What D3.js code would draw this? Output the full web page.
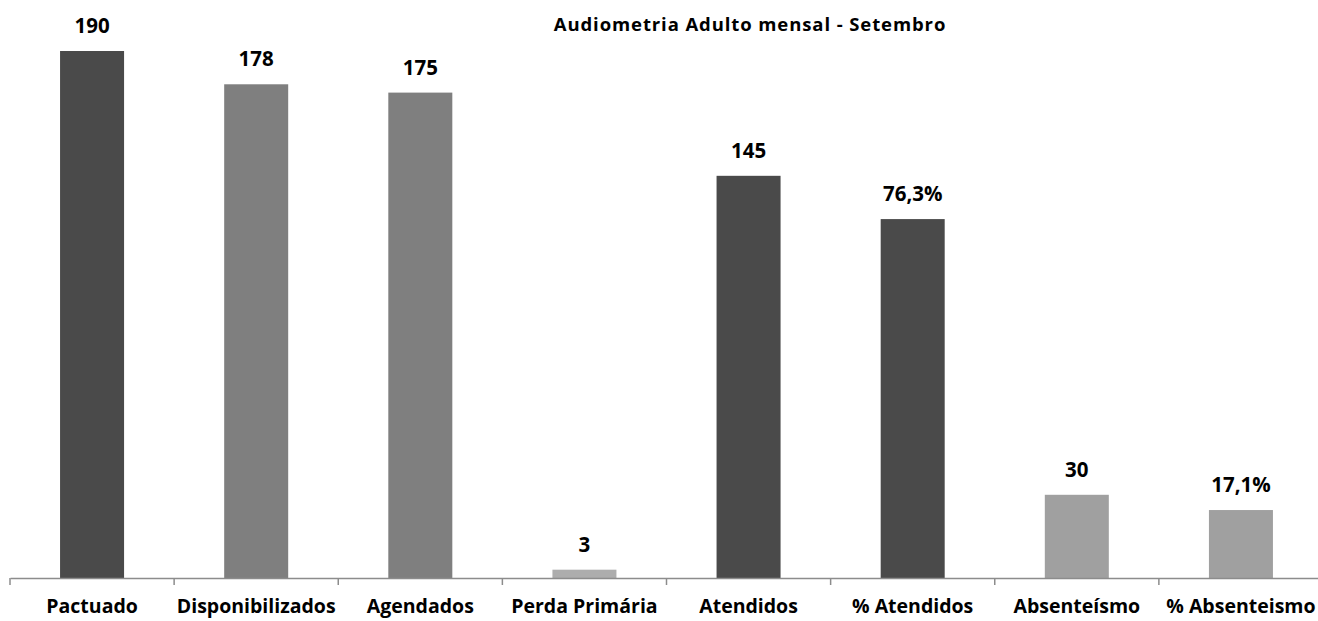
<!DOCTYPE html>
<html><head><meta charset="utf-8">
<script src="https://cdn.jsdelivr.net/npm/d3@7"></script>
<style>body{margin:0;background:#fff}svg{display:block}text{font-family:"Open Sans",sans-serif;font-weight:bold;fill:#000}</style>
</head><body><svg id="c" width="1318" height="621"></svg>
<script>
const title = "Audiometria Adulto mensal - Setembro";
const categories = ["Pactuado","Disponibilizados","Agendados","Perda Primária","Atendidos","% Atendidos","Absenteísmo","% Absenteismo"];
const plotValues = [190,178,175,3,145,129.4,30,24.5];
const valueLabels = ["190","178","175","3","145","76,3%","30","17,1%"];
const barColors = ["#4a4a4a","#7f7f7f","#7f7f7f","#adadad","#4a4a4a","#4a4a4a","#a0a0a0","#a0a0a0"];

(function(){
const svg = d3.select("#c");
const leftX = 10, rightX = 1323, base = 578, topY = 51;
const x = d3.scaleBand().domain(categories).range([leftX, rightX]).paddingInner(0.61).paddingOuter(0.305);
const y = d3.scaleLinear().domain([0, 190]).range([base, topY]);

svg.append("text").attr("x", 750).attr("y", 31).attr("text-anchor","middle")
  .style("font-size","18.5px").style("letter-spacing","0.9px").text(title);

svg.selectAll("rect.bar").data(categories).join("rect").attr("class","bar")
  .attr("x", d => x(d)).attr("width", x.bandwidth())
  .attr("y", (d,i) => y(plotValues[i])).attr("height", (d,i) => base - y(plotValues[i]))
  .attr("fill", (d,i) => barColors[i]);

svg.selectAll("text.val").data(categories).join("text").attr("class","val")
  .attr("x", d => x(d) + x.bandwidth()/2).attr("y", (d,i) => y(plotValues[i]) - 18)
  .attr("text-anchor","middle").style("font-size","20.5px").text((d,i) => valueLabels[i]);

const xAxis = d3.axisBottom(x).tickSize(0).tickFormat("");
const ag = svg.append("g").attr("transform", `translate(0,${base})`).call(xAxis);
ag.select(".domain").attr("stroke","#8c8c8c").attr("stroke-width",1.5);
const step = x.step();
ag.selectAll("line.tk").data(d3.range(categories.length+1)).join("line").attr("class","tk")
  .attr("x1", i => leftX + i*step).attr("x2", i => leftX + i*step)
  .attr("y1", 0).attr("y2", 7).attr("stroke","#8c8c8c").attr("stroke-width",1.5);

svg.selectAll("text.cat").data(categories).join("text").attr("class","cat")
  .attr("x", d => x(d) + x.bandwidth()/2).attr("y", 613)
  .attr("text-anchor","middle").style("font-size","19.5px").text(d => d);
})();
</script></body></html>
